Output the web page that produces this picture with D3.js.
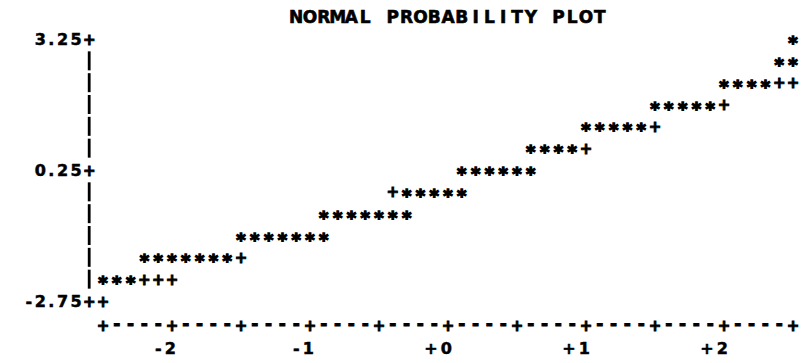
<!DOCTYPE html>
<html>
<head>
<meta charset="utf-8">
<script src="https://cdn.jsdelivr.net/npm/d3@7"></script>
<style>
  body { margin: 0; background: #fff; }
  svg { display: block; }
  text { font-family: "DejaVu Sans", sans-serif; font-weight: bold; fill: #000; stroke: #000; stroke-width: 0.5px; }
</style>
</head>
<body>
<svg width="807" height="363"></svg>
<script>
// line printer style normal probability plot: '*' = data, '+' = reference line
var title = "NORMAL PROBABILITY PLOT";
var yTickValues = [3.25, 0.25, -2.75];
var yTickLabels = ["3.25", "0.25", "-2.75"];
var xTickValues = [-2, -1, 0, 1, 2];
var xTickLabels = ["-2", "-1", "+0", "+1", "+2"];

// one entry per printed row: the data value of the row, and the normal scores of its stars
var rowValues = [3.25, 2.75, 2.25, 1.75, 1.25, 0.75, 0.25, -0.25, -0.75, -1.25, -1.75, -2.25];
var starScores = [
  [2.5],
  [2.4, 2.5],
  [2.0, 2.1, 2.2, 2.3],
  [1.5, 1.6, 1.7, 1.8, 1.9],
  [1.0, 1.1, 1.2, 1.3, 1.4],
  [0.6, 0.7, 0.8, 0.9],
  [0.1, 0.2, 0.3, 0.4, 0.5, 0.6],
  [-0.3, -0.2, -0.1, 0.0, 0.1],
  [-0.9, -0.8, -0.7, -0.6, -0.5, -0.4, -0.3],
  [-1.5, -1.4, -1.3, -1.2, -1.1, -1.0, -0.9],
  [-2.2, -2.1, -2.0, -1.9, -1.8, -1.7, -1.6],
  [-2.5, -2.4, -2.3]
];

// fitted reference line  y = refIntercept + refSlope * x
var refIntercept = -0.05;
var refSlope = 1;

var ROW_STEP = 0.5, COL_STEP = 0.1;

var svg = d3.select("svg");
var x = d3.scaleLinear().domain([-2.5, 2.5]).range([103, 793]);
var y = d3.scaleLinear().domain([-2.75, 3.25]).range([301, 39]);
var charW = x(COL_STEP) - x(0);

var AXIS_Y = 325, LABEL_Y = 348;

function rowOf(v) { return Math.round((3.25 - v) / ROW_STEP); }
function colOf(v) { return Math.round((v + 2.5) / COL_STEP); }

/*  DATA STARS  */
var stars = [];
var taken = {};
rowValues.forEach(function(rv, i) {
  starScores[i].forEach(function(s) {
    stars.push({x: s, y: rv});
    taken[rowOf(rv) + "_" + colOf(s)] = true;
  });
});

svg.append("g").attr("class", "stars").selectAll("text").data(stars).enter().append("text")
  .attr("x", function(d) { return x(d.x); })
  .attr("y", function(d) { return y(d.y) + 10; })
  .attr("text-anchor", "middle")
  .style("font-size", "18px")
  .style("stroke-width", "1.3px")
  .text("*");

/*  REFERENCE LINE (only where no star covers it)  */
var cols = d3.range(0, 51).map(function(k) { return -2.5 + k * COL_STEP; });
var refMarks = [];
cols.forEach(function(c) {
  var r = rowOf(refIntercept + refSlope * c);
  if (r < 0 || r > 12) return;
  if (taken[r + "_" + colOf(c)]) return;
  refMarks.push({x: c, y: 3.25 - r * ROW_STEP});
});

svg.append("g").attr("class", "ref").selectAll("text").data(refMarks).enter().append("text")
  .attr("x", function(d) { return x(d.x); })
  .attr("y", function(d) { return y(d.y) + 5.5; })
  .attr("text-anchor", "middle")
  .style("font-size", "15px")
  .style("stroke-width", "0.9px")
  .text("+");

/*  Y AXIS  */
var axisX = x(-2.5) - charW;
var rowsAll = d3.range(0, 13).map(function(r) { return 3.25 - r * ROW_STEP; });
var yAxis = svg.append("g").attr("class", "y-axis");
yAxis.selectAll("line").data(rowsAll.filter(function(v) { return yTickValues.indexOf(v) < 0; }))
  .enter().append("line")
  .attr("x1", axisX).attr("x2", axisX)
  .attr("y1", function(d) { return y(d) - 9.5; })
  .attr("y2", function(d) { return y(d) + 9.5; })
  .attr("stroke", "#000").attr("stroke-width", 2.8);
yAxis.selectAll("text.tick").data(yTickValues).enter().append("text")
  .attr("class", "tick")
  .attr("x", axisX).attr("y", function(d) { return y(d) + 5.5; })
  .attr("text-anchor", "middle")
  .style("font-size", "15px")
  .style("stroke-width", "0.9px")
  .text("+");
yAxis.selectAll("text.lab").data(yTickValues).enter().append("text")
  .attr("class", "lab")
  .attr("x", axisX - 5).attr("y", function(d) { return y(d) + 6; })
  .attr("text-anchor", "end")
  .style("font-size", "16px")
  .style("letter-spacing", "2.5px")
  .text(function(d, i) { return yTickLabels[i]; });

/*  X AXIS  */
var xAxis = svg.append("g").attr("class", "x-axis");
xAxis.selectAll("text.rule").data(cols).enter().append("text")
  .attr("class", "rule")
  .attr("x", function(d) { return x(d); })
  .attr("y", function(d, i) { return AXIS_Y + (i % 5 === 0 ? 5.5 : 5); })
  .attr("text-anchor", "middle")
  .style("font-size", function(d, i) { return i % 5 === 0 ? "15px" : "17px"; })
  .style("stroke-width", "0.9px")
  .text(function(d, i) { return i % 5 === 0 ? "+" : "-"; });
xAxis.selectAll("text.lab").data(xTickValues).enter().append("text")
  .attr("class", "lab")
  .attr("x", function(d) { return x(d) + charW / 2; })
  .attr("y", LABEL_Y + 6)
  .attr("text-anchor", "end")
  .style("font-size", "16px")
  .style("letter-spacing", "3px")
  .text(function(d, i) { return xTickLabels[i]; });

/*  TITLE  */
svg.append("g").attr("class", "title").selectAll("text").data(title.split("")).enter().append("text")
  .attr("x", function(d, i) { return x(-2.5 + (14 + i) * COL_STEP); })
  .attr("y", 23)
  .attr("text-anchor", "middle")
  .style("font-size", "17px")
  .style("stroke-width", "0.6px")
  .text(function(d) { return d; });
</script>
</body>
</html>
